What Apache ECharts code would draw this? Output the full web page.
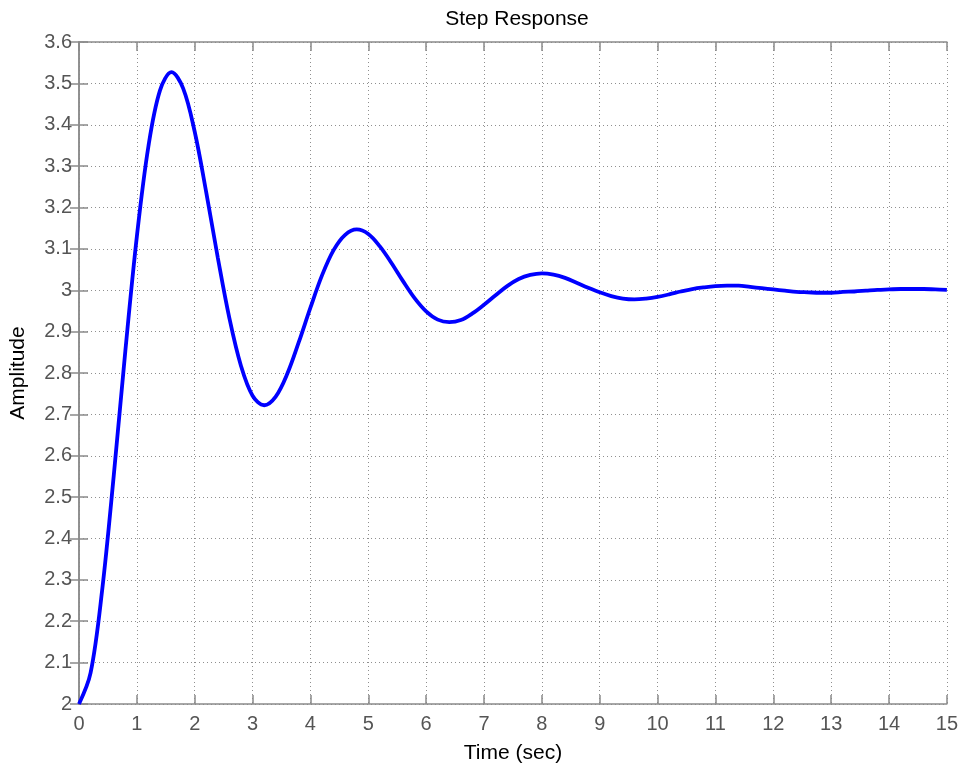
<!DOCTYPE html>
<html>
<head>
<meta charset="utf-8">
<script src="https://cdn.jsdelivr.net/npm/echarts@6/dist/echarts.min.js"></script>
<style>
html,body{margin:0;padding:0;background:#fff;}
#chart{width:961px;height:769px;}
</style>
</head>
<body>
<div id="chart"></div>
<script>
var chartTitle = 'Step Response';
var xAxisName = 'Time (sec)';
var yAxisName = 'Amplitude';

var timeSec = [0,0.2,0.4,0.6,0.8,1.0,1.2,1.4,1.6,1.8,2.0,2.2,2.4,2.6,2.8,3.0,3.2,3.4,3.6,3.8,
  4.0,4.2,4.4,4.6,4.8,5.0,5.2,5.4,5.6,5.8,6.0,6.2,6.4,6.6,6.8,7.0,7.2,7.4,7.6,7.8,
  8.0,8.2,8.4,8.6,8.8,9.0,9.2,9.4,9.6,9.8,10.0,10.2,10.4,10.6,10.8,11.0,11.2,11.4,11.6,11.8,
  12.0,12.2,12.4,12.6,12.8,13.0,13.2,13.4,13.6,13.8,14.0,14.2,14.4,14.6,14.8,15.0];

var amplitude = [2.000,2.075,2.275,2.551,2.852,3.130,3.348,3.483,3.527,3.488,3.383,3.236,3.078,2.932,2.817,2.745,2.722,2.743,2.798,2.875,
  2.958,3.036,3.097,3.134,3.147,3.136,3.106,3.066,3.022,2.981,2.949,2.929,2.923,2.928,2.944,2.965,2.988,3.010,3.027,3.037,
  3.041,3.038,3.030,3.018,3.006,2.995,2.986,2.980,2.978,2.980,2.984,2.990,2.997,3.003,3.007,3.010,3.011,3.011,3.008,3.005,
  3.002,2.999,2.996,2.995,2.994,2.994,2.996,2.997,2.999,3.001,3.002,3.003,3.003,3.003,3.002,3.001];

var xMin = 0, xMax = 15, xStep = 1;
var yMin = 2, yMax = 3.6, yStep = 0.1;

var pts = timeSec.map(function (t, i) { return [t, amplitude[i]]; });

var FONT = '"Liberation Sans", Arial, Helvetica, sans-serif';
var boxColor = '#8a8a8a';
var labelColor = '#555555';

var chart = echarts.init(document.getElementById('chart'));
chart.setOption({
  animation: false,
  backgroundColor: '#ffffff',
  title: {
    text: chartTitle,
    left: 512, top: 4, textAlign: 'center',
    textStyle: { fontFamily: FONT, fontSize: 21, fontWeight: 'normal', color: '#000' }
  },
  grid: { left: 79, right: 14, top: 42, bottom: 65, containLabel: false },
  xAxis: [{
    type: 'value', min: xMin, max: xMax, interval: xStep,
    name: xAxisName, nameLocation: 'middle', nameGap: 39,
    nameTextStyle: { fontFamily: FONT, fontSize: 21, color: '#000' },
    axisLine: { show: true, lineStyle: { color: boxColor, width: 1.5 } },
    axisTick: { show: true, inside: true, length: 9, lineStyle: { color: boxColor, width: 1.5 } },
    axisLabel: { fontFamily: FONT, fontSize: 20, color: labelColor, margin: 10 },
    splitLine: { show: true, lineStyle: { color: '#8f8f8f', type: [1, 3], width: 1 } }
  }, {
    type: 'value', min: xMin, max: xMax, interval: xStep, position: 'top',
    axisLine: { show: true, lineStyle: { color: boxColor, width: 1.5 } },
    axisTick: { show: true, inside: true, length: 9, lineStyle: { color: boxColor, width: 1.5 } },
    axisLabel: { show: false }, splitLine: { show: false }
  }],
  yAxis: [{
    type: 'value', min: yMin, max: yMax, interval: yStep,
    name: yAxisName, nameLocation: 'middle', nameGap: 50, nameRotate: 90,
    nameTextStyle: { fontFamily: FONT, fontSize: 21, color: '#000' },
    axisLine: { show: true, lineStyle: { color: boxColor, width: 1.5 } },
    axisTick: { show: true, inside: true, length: 9, lineStyle: { color: boxColor, width: 1.5 } },
    axisLabel: { fontFamily: FONT, fontSize: 20, color: labelColor, margin: 7 },
    splitLine: { show: true, lineStyle: { color: '#8f8f8f', type: [1, 3], width: 1 } }
  }, {
    type: 'value', min: yMin, max: yMax, interval: yStep, position: 'right',
    axisLine: { show: true, lineStyle: { color: boxColor, width: 1.5 } },
    axisTick: { show: true, inside: true, length: 9, lineStyle: { color: boxColor, width: 1.5 } },
    axisLabel: { show: false }, splitLine: { show: false }
  }],
  series: [{
    type: 'line', data: pts, xAxisIndex: 0, yAxisIndex: 0,
    smooth: 0.35, showSymbol: false, symbol: 'none',
    lineStyle: { color: '#0000ff', width: 3.8 }
  }]
});
</script>
</body>
</html>
